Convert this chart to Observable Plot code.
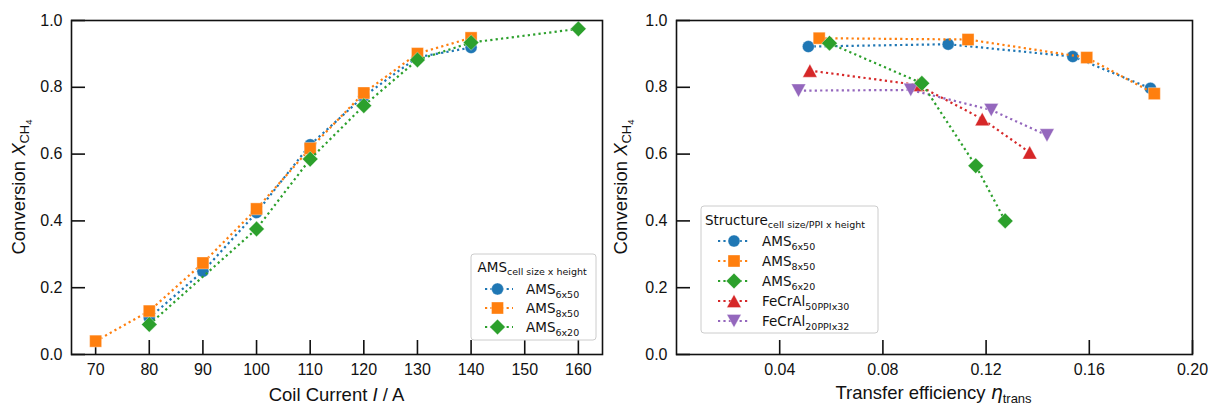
<!DOCTYPE html>
<html><head><meta charset="utf-8">
<script src="https://cdn.jsdelivr.net/npm/d3@7"></script>
<script src="https://cdn.jsdelivr.net/npm/@observablehq/plot@0.6"></script>
<style>
html,body{margin:0;padding:0;background:#fff;}
#wrap{position:relative;width:1208px;height:405px;overflow:hidden;background:#fff;}
#wrap svg{position:absolute;top:0;overflow:visible;}
</style></head><body><div id="wrap"></div>
<script>
// ---------- data: left panel (conversion vs coil current) ----------
const current_AMS6x50 = [80, 90, 100, 110, 120, 130, 140];
const conv_AMS6x50    = [0.11, 0.249, 0.425, 0.628, 0.773, 0.89, 0.919];
const current_AMS8x50 = [70, 80, 90, 100, 110, 120, 130, 140];
const conv_AMS8x50    = [0.04, 0.13, 0.274, 0.436, 0.617, 0.783, 0.901, 0.948];
const current_AMS6x20 = [80, 100, 110, 120, 130, 140, 160];
const conv_AMS6x20    = [0.09, 0.376, 0.585, 0.745, 0.882, 0.934, 0.975];

// ---------- data: right panel (conversion vs transfer efficiency) ----------
const eta_AMS6x50  = [0.0511, 0.1053, 0.1536, 0.1837];
const convR_AMS6x50 = [0.922, 0.929, 0.892, 0.797];
const eta_AMS8x50  = [0.0553, 0.113, 0.159, 0.1852];
const convR_AMS8x50 = [0.947, 0.943, 0.889, 0.781];
const eta_AMS6x20  = [0.0593, 0.0951, 0.116, 0.1274];
const convR_AMS6x20 = [0.932, 0.812, 0.565, 0.40];
const eta_FeCrAl50 = [0.0517, 0.0935, 0.1185, 0.1369];
const convR_FeCrAl50 = [0.85, 0.807, 0.705, 0.605];
const eta_FeCrAl20 = [0.0473, 0.0908, 0.122, 0.1436];
const convR_FeCrAl20 = [0.79, 0.792, 0.732, 0.656];

// ---------- ticks ----------
const xTicksLeft  = [70, 80, 90, 100, 110, 120, 130, 140, 150, 160];
const xTicksRight = [0.04, 0.08, 0.12, 0.16, 0.20];
const yTicks      = [0, 0.2, 0.4, 0.6, 0.8, 1.0];

// ---------- series names / colours ----------
const names = [
  {main: "AMS", sub: "6x50"},
  {main: "AMS", sub: "8x50"},
  {main: "AMS", sub: "6x20"},
  {main: "FeCrAl", sub: "50PPIx30"},
  {main: "FeCrAl", sub: "20PPIx32"}
];
const colors = ["#1f77b4", "#ff7f0e", "#2ca02c", "#d62728", "#9467bd"];

const SYM = {
  circle:  {draw(c){ c.moveTo(6, 0); c.arc(0, 0, 6, 0, 2 * Math.PI); c.closePath(); }},
  square:  {draw(c){ c.moveTo(-6, -6); c.lineTo(6, -6); c.lineTo(6, 6); c.lineTo(-6, 6); c.closePath(); }},
  diamond: {draw(c){ const a = 7.8; c.moveTo(0, -a); c.lineTo(a, 0); c.lineTo(0, a); c.lineTo(-a, 0); c.closePath(); }},
  triUp:   {draw(c){ const w = 7.2, h = 6.6; c.moveTo(0, -h); c.lineTo(w, h); c.lineTo(-w, h); c.closePath(); }},
  triDown: {draw(c){ const w = 7.2, h = 6.6; c.moveTo(0, h); c.lineTo(w, -h); c.lineTo(-w, -h); c.closePath(); }}
};
const symbols = [SYM.circle, SYM.square, SYM.diamond, SYM.triUp, SYM.triDown];

const table = (xs, ys) => xs.map((x, i) => ({x, y: ys[i]}));

const leftData = [
  table(current_AMS6x50, conv_AMS6x50),
  table(current_AMS8x50, conv_AMS8x50),
  table(current_AMS6x20, conv_AMS6x20)
];
const rightData = [
  table(eta_AMS6x50, convR_AMS6x50),
  table(eta_AMS8x50, convR_AMS8x50),
  table(eta_AMS6x20, convR_AMS6x20),
  table(eta_FeCrAl50, convR_FeCrAl50),
  table(eta_FeCrAl20, convR_FeCrAl20)
];

const DASH = "2.2,3.2";
function seriesMarks(data, i) {
  return [
    Plot.line(data, {x: "x", y: "y", stroke: colors[i], strokeWidth: 2.2, strokeDasharray: DASH, strokeLinecap: "butt"}),
    Plot.dot(data, {x: "x", y: "y", fill: colors[i], symbol: symbols[i], stroke: "white", strokeWidth: 0.6, strokeOpacity: 0.6})
  ];
}

const AX = "#111";
function axes(xTicks, xFmt) {
  return [
    Plot.axisX({ticks: xTicks, tickSize: -14, fill: "none", stroke: AX, strokeWidth: 1.6}),
    Plot.axisX({ticks: xTicks, tickSize: 0, tickPadding: 9, tickFormat: xFmt, label: null, fill: AX}),
    Plot.axisY({ticks: yTicks, tickSize: -14, fill: "none", stroke: AX, strokeWidth: 1.6}),
    Plot.axisY({ticks: yTicks, tickSize: 0, tickPadding: 9, tickFormat: d3.format(".1f"), label: null, fill: AX})
  ];
}

const baseStyle = {fontFamily: "'Liberation Sans', Arial, sans-serif", fontSize: "16px", background: "transparent", color: AX, overflow: "visible"};

const leftOrder = [0, 1, 2];
const left = Plot.plot({
  width: 610, height: 405,
  marginLeft: 71, marginRight: 8, marginTop: 20, marginBottom: 51,
  x: {domain: [65.5, 164.5]},
  y: {domain: [0, 1]},
  style: baseStyle,
  marks: [
    ...axes(xTicksLeft, d3.format("d")),
    ...leftOrder.flatMap(i => seriesMarks(leftData[i], i)),
    Plot.frame({stroke: AX, strokeWidth: 1.6})
  ]
});

const rightOrder = [0, 1, 3, 4, 2];
const right = Plot.plot({
  width: 603, height: 405,
  marginLeft: 71, marginRight: 16, marginTop: 20, marginBottom: 51,
  x: {domain: [0, 0.2]},
  y: {domain: [0, 1]},
  style: baseStyle,
  marks: [
    ...axes(xTicksRight, d3.format(".2f")),
    ...rightOrder.flatMap(i => seriesMarks(rightData[i], i)),
    Plot.frame({stroke: AX, strokeWidth: 1.6})
  ]
});

const wrap = document.getElementById("wrap");
left.style.left = "0px";
right.style.left = "605px";
wrap.appendChild(left);
wrap.appendChild(right);

// ---------- rich text helpers ----------
const SANS = "'Liberation Sans', Arial, sans-serif";
const DJV = "'DejaVu Sans', sans-serif";
function rich(g, parts, attrs) {
  const t = g.append("text").attr("fill", AX).attr("text-anchor", "start").style("white-space", "pre");
  for (const k in attrs) t.attr(k, attrs[k]);
  for (const p of parts) {
    const s = t.append("tspan").text(p.t)
      .attr("font-size", p.size)
      .attr("font-family", p.family || SANS);
    if (p.italic) s.attr("font-style", "italic");
    if (p.dy) s.attr("dy", p.dy);
  }
  return t;
}
function yTitle(svg, x, y) {
  const g = d3.select(svg).append("g").attr("transform", `translate(${x},${y}) rotate(-90)`);
  rich(g, [
    {t: "Conversion ", size: 18.5},
    {t: "X", size: 18.5, italic: true},
    {t: "CH", size: 13, dy: 4},
    {t: "4", size: 9.5, dy: 2.5}
  ], {"text-anchor": "middle", x: 0, y: 0});
}
yTitle(left, 25, 187);
yTitle(right, 22, 187);

rich(d3.select(left), [
  {t: "Coil Current ", size: 18.5},
  {t: "I", size: 18.5, italic: true},
  {t: " / A", size: 18.5}
], {"text-anchor": "middle", x: 336.5, y: 400.5});

rich(d3.select(right), [
  {t: "Transfer efficiency ", size: 18.5},
  {t: "η", size: 19, italic: true, family: DJV},
  {t: "trans", size: 13, dy: 4}
], {"text-anchor": "middle", x: 328.5, y: 399});

// ---------- legends ----------
function legend(svg, cfg, idx) {
  const g = d3.select(svg).append("g");
  g.append("rect").attr("x", cfg.x).attr("y", cfg.y).attr("width", cfg.w).attr("height", cfg.h)
    .attr("rx", 3).attr("fill", "white").attr("fill-opacity", 0.85)
    .attr("stroke", "#cccccc").attr("stroke-width", 1);
  rich(g, [
    {t: cfg.title, size: 13.5, family: DJV},
    {t: cfg.titleSub, size: 9.5, family: DJV, dy: 3.5}
  ], {x: cfg.titleX, y: cfg.titleY});
  idx.forEach((i, k) => {
    const cy = cfg.row0 + k * cfg.dy;
    g.append("line").attr("x1", cfg.lx1).attr("x2", cfg.lx2).attr("y1", cy).attr("y2", cy)
      .attr("stroke", colors[i]).attr("stroke-width", 2.2).attr("stroke-dasharray", DASH);
    const p = d3.path(); symbols[i].draw(p);
    g.append("path").attr("d", p.toString()).attr("transform", `translate(${cfg.mx},${cy})`)
      .attr("fill", colors[i]).attr("stroke", "white").attr("stroke-width", 0.6).attr("stroke-opacity", 0.6);
    rich(g, [
      {t: names[i].main, size: 13.5, family: DJV},
      {t: names[i].sub, size: 9.5, family: DJV, dy: 3.5}
    ], {x: cfg.tx, y: cy + 5});
  });
}
legend(left, {x: 471, y: 254, w: 125, h: 86, title: "AMS", titleSub: "cell size x height",
  titleX: 477.5, titleY: 271.5, row0: 289, dy: 19, mx: 497.5, lx1: 485, lx2: 513, tx: 526}, [0, 1, 2]);
legend(right, {x: 96, y: 206, w: 177, h: 127, title: "Structure", titleSub: "cell size/PPI x height",
  titleX: 100, titleY: 224.5, row0: 241, dy: 20, mx: 129, lx1: 113, lx2: 144, tx: 157}, [0, 1, 2, 3, 4]);
</script>
</body></html>
